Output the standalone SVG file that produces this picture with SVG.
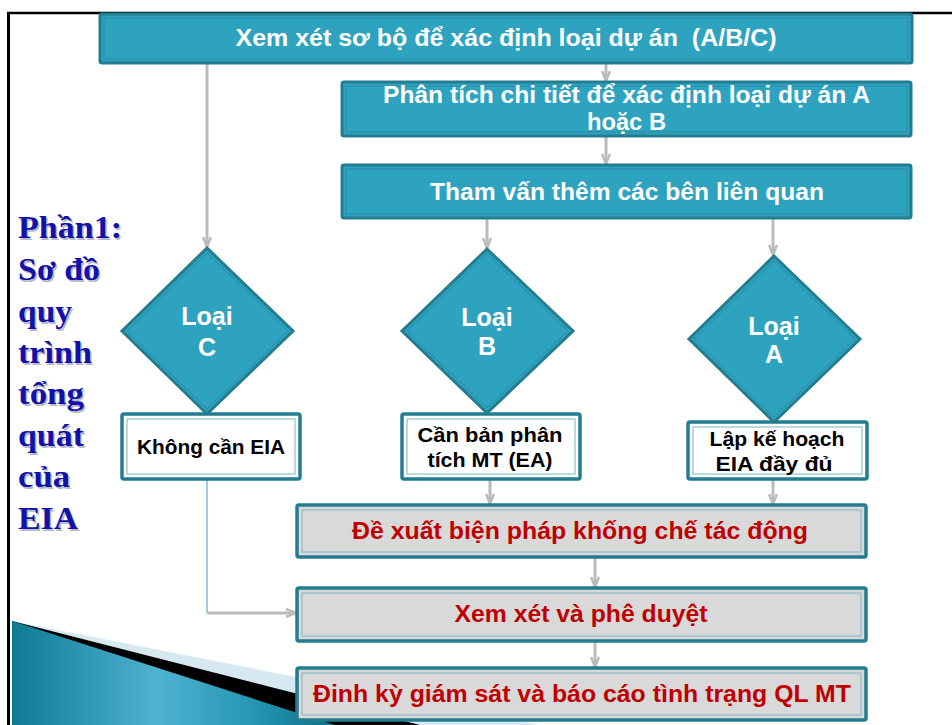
<svg xmlns="http://www.w3.org/2000/svg" width="952" height="725" viewBox="0 0 952 725">
<defs>
<style>
.tbox{fill:#2EA3C0;stroke:#237C90;stroke-width:3}
.tin{fill:none;stroke:#2A8BA3;stroke-width:1}
.wbox{fill:#FFFFFF;stroke:#237C90;stroke-width:3.5}
.gbox{fill:#D9D9D9;stroke:#237C90;stroke-width:3.5}
.lin{fill:none;stroke:#7FB3C2;stroke-width:1}
.wt{font-family:"Liberation Sans",Arial,sans-serif;font-weight:bold;fill:#FFFFFF;font-size:23px;text-anchor:middle}
.dt{font-family:"Liberation Sans",Arial,sans-serif;font-weight:bold;fill:#FFFFFF;font-size:25px;text-anchor:middle}
.bt{font-family:"Liberation Sans",Arial,sans-serif;font-weight:bold;fill:#000000;font-size:21px;text-anchor:middle}
.rt{font-family:"Liberation Sans",Arial,sans-serif;font-weight:bold;fill:#C00000;font-size:23px;text-anchor:middle}
.lt{font-family:"Liberation Serif","Times New Roman",serif;font-weight:bold;fill:#1212AA;font-size:32px}
.ls{font-family:"Liberation Serif","Times New Roman",serif;font-weight:bold;fill:#B8B8C8;font-size:32px}
.conn{stroke:#BBBBBB;stroke-width:3;fill:none}
.thin{stroke:#2EA3C0;stroke-width:1;fill:none}
</style>
<marker id="arr" viewBox="0 0 12 10" refX="11" refY="5" markerWidth="12" markerHeight="10" markerUnits="userSpaceOnUse" orient="auto">
<path d="M1,1 L11,5 L1,9" fill="none" stroke="#BBBBBB" stroke-width="2.5"/>
</marker>
<linearGradient id="tealg" x1="0" y1="0" x2="1" y2="0">
<stop offset="0" stop-color="#0F7A93"/>
<stop offset="0.45" stop-color="#4FB3D1"/>
<stop offset="0.75" stop-color="#2496B3"/>
<stop offset="1" stop-color="#0E7088"/>
</linearGradient>
</defs>

<g id="background">
<polygon points="12,621 540,725 12,725" fill="#D6E9F0"/>
<polygon points="12,621 420,725 12,725" fill="#000000"/>
<polygon points="12,621 335,725 12,725" fill="url(#tealg)"/>
<line x1="7" y1="13" x2="952" y2="13" stroke="#000" stroke-width="2.5"/>
<line x1="8.5" y1="12" x2="8.5" y2="725" stroke="#000" stroke-width="3"/>
</g>

<g id="title">
<g transform="translate(1.5,1.5)">
<text class="ls" x="18" y="238" textLength="104" lengthAdjust="spacingAndGlyphs">Phần1:</text>
<text class="ls" x="18" y="280" textLength="82" lengthAdjust="spacingAndGlyphs">Sơ đồ</text>
<text class="ls" x="18" y="322" textLength="54" lengthAdjust="spacingAndGlyphs">quy</text>
<text class="ls" x="18" y="363" textLength="74" lengthAdjust="spacingAndGlyphs">trình</text>
<text class="ls" x="18" y="404" textLength="66" lengthAdjust="spacingAndGlyphs">tổng</text>
<text class="ls" x="18" y="446" textLength="66" lengthAdjust="spacingAndGlyphs">quát</text>
<text class="ls" x="18" y="487" textLength="52" lengthAdjust="spacingAndGlyphs">của</text>
<text class="ls" x="18" y="529" textLength="60" lengthAdjust="spacingAndGlyphs">EIA</text>
</g>
<text class="lt" x="18" y="238" textLength="104" lengthAdjust="spacingAndGlyphs">Phần1:</text>
<text class="lt" x="18" y="280" textLength="82" lengthAdjust="spacingAndGlyphs">Sơ đồ</text>
<text class="lt" x="18" y="322" textLength="54" lengthAdjust="spacingAndGlyphs">quy</text>
<text class="lt" x="18" y="363" textLength="74" lengthAdjust="spacingAndGlyphs">trình</text>
<text class="lt" x="18" y="404" textLength="66" lengthAdjust="spacingAndGlyphs">tổng</text>
<text class="lt" x="18" y="446" textLength="66" lengthAdjust="spacingAndGlyphs">quát</text>
<text class="lt" x="18" y="487" textLength="52" lengthAdjust="spacingAndGlyphs">của</text>
<text class="lt" x="18" y="529" textLength="60" lengthAdjust="spacingAndGlyphs">EIA</text>
</g>

<g id="connectors">
<line class="conn" x1="207" y1="63" x2="207" y2="247" marker-end="url(#arr)"/>
<line class="conn" x1="606" y1="63" x2="606" y2="81" marker-end="url(#arr)"/>
<line class="conn" x1="606" y1="136" x2="606" y2="164" marker-end="url(#arr)"/>
<line class="conn" x1="487" y1="218" x2="487" y2="248" marker-end="url(#arr)"/>
<line class="conn" x1="773" y1="218" x2="773" y2="255" marker-end="url(#arr)"/>
<line class="conn" x1="490" y1="479" x2="490" y2="504" marker-end="url(#arr)"/>
<line class="conn" x1="773" y1="479" x2="773" y2="504" marker-end="url(#arr)"/>
<line class="conn" x1="595" y1="557" x2="595" y2="587" marker-end="url(#arr)"/>
<line class="conn" x1="595" y1="641" x2="595" y2="667" marker-end="url(#arr)"/>
<line class="thin" x1="207" y1="479" x2="207" y2="613"/>
<line class="conn" x1="207" y1="613" x2="296" y2="613" marker-end="url(#arr)"/>
</g>

<g id="n1">
<rect class="tbox" x="100" y="14" width="812" height="49" rx="2"/>
<rect class="tin" x="104" y="18" width="804" height="41"/>
<text class="wt" x="506" y="46" textLength="541" lengthAdjust="spacingAndGlyphs" style="white-space:pre">Xem xét sơ bộ để xác định loại dự án  (A/B/C)</text>
</g>

<g id="n2">
<rect class="tbox" x="342" y="82" width="569" height="54" rx="2"/>
<rect class="tin" x="346" y="86" width="561" height="46"/>
<text class="wt" x="626.5" y="103" textLength="487" lengthAdjust="spacingAndGlyphs">Phân tích chi tiết để xác định loại dự án A</text>
<text class="wt" x="626.5" y="130" textLength="79" lengthAdjust="spacingAndGlyphs">hoặc B</text>
</g>

<g id="n3">
<rect class="tbox" x="342" y="165" width="569" height="53" rx="2"/>
<rect class="tin" x="346" y="169" width="561" height="45"/>
<text class="wt" x="627" y="200" textLength="394" lengthAdjust="spacingAndGlyphs">Tham vấn thêm các bên liên quan</text>
</g>

<g id="dC">
<polygon class="tbox" points="207,248 293,331 207,414 122,331"/>
<polygon class="tin" points="207,253 288,331 207,409 127,331"/>
<text class="dt" x="207" y="325">Loại</text>
<text class="dt" x="207" y="356">C</text>
</g>

<g id="dB">
<polygon class="tbox" points="487,249 573,331 487,413 402,331"/>
<polygon class="tin" points="487,254 568,331 487,408 407,331"/>
<text class="dt" x="487" y="326" font-size="23">Loại</text>
<text class="dt" x="487" y="355" font-size="23">B</text>
</g>

<g id="dA">
<polygon class="tbox" points="774,256 860,339 774,422 689,339"/>
<polygon class="tin" points="774,261 855,339 774,417 694,339"/>
<text class="dt" x="774" y="335" font-size="23">Loại</text>
<text class="dt" x="774" y="363" font-size="23">A</text>
</g>

<g id="bC">
<rect class="wbox" x="122" y="414" width="178" height="65" rx="2"/>
<rect class="lin" x="127" y="419" width="168" height="55"/>
<text class="bt" x="211" y="454" textLength="148" lengthAdjust="spacingAndGlyphs">Không cần EIA</text>
</g>

<g id="bB">
<rect class="wbox" x="402" y="414" width="178" height="65" rx="2"/>
<rect class="lin" x="407" y="419" width="168" height="55"/>
<text class="bt" x="490" y="442" textLength="145" lengthAdjust="spacingAndGlyphs">Cần bản phân</text>
<text class="bt" x="490" y="467" textLength="125" lengthAdjust="spacingAndGlyphs">tích MT (EA)</text>
</g>

<g id="bA">
<rect class="wbox" x="688" y="422" width="179" height="57" rx="2"/>
<rect class="lin" x="693" y="427" width="169" height="47"/>
<text class="bt" x="777" y="446" textLength="135" lengthAdjust="spacingAndGlyphs">Lập kế hoạch</text>
<text class="bt" x="774" y="471" textLength="117" lengthAdjust="spacingAndGlyphs">EIA đầy đủ</text>
</g>

<g id="g1">
<rect class="gbox" x="297" y="505" width="569" height="52" rx="2"/>
<rect class="lin" x="302" y="510" width="559" height="42"/>
<text class="rt" x="580" y="539" textLength="456" lengthAdjust="spacingAndGlyphs">Đề xuất biện pháp khống chế tác động</text>
</g>

<g id="g2">
<rect class="gbox" x="297" y="588" width="569" height="53" rx="2"/>
<rect class="lin" x="302" y="593" width="559" height="43"/>
<text class="rt" x="581" y="622" textLength="253" lengthAdjust="spacingAndGlyphs">Xem xét và phê duyệt</text>
</g>

<g id="g3">
<rect class="gbox" x="297" y="668" width="569" height="52" rx="2"/>
<rect class="lin" x="302" y="673" width="559" height="42"/>
<text class="rt" x="582" y="702" textLength="538" lengthAdjust="spacingAndGlyphs">Đinh kỳ giám sát và báo cáo tình trạng QL MT</text>
</g>
</svg>
